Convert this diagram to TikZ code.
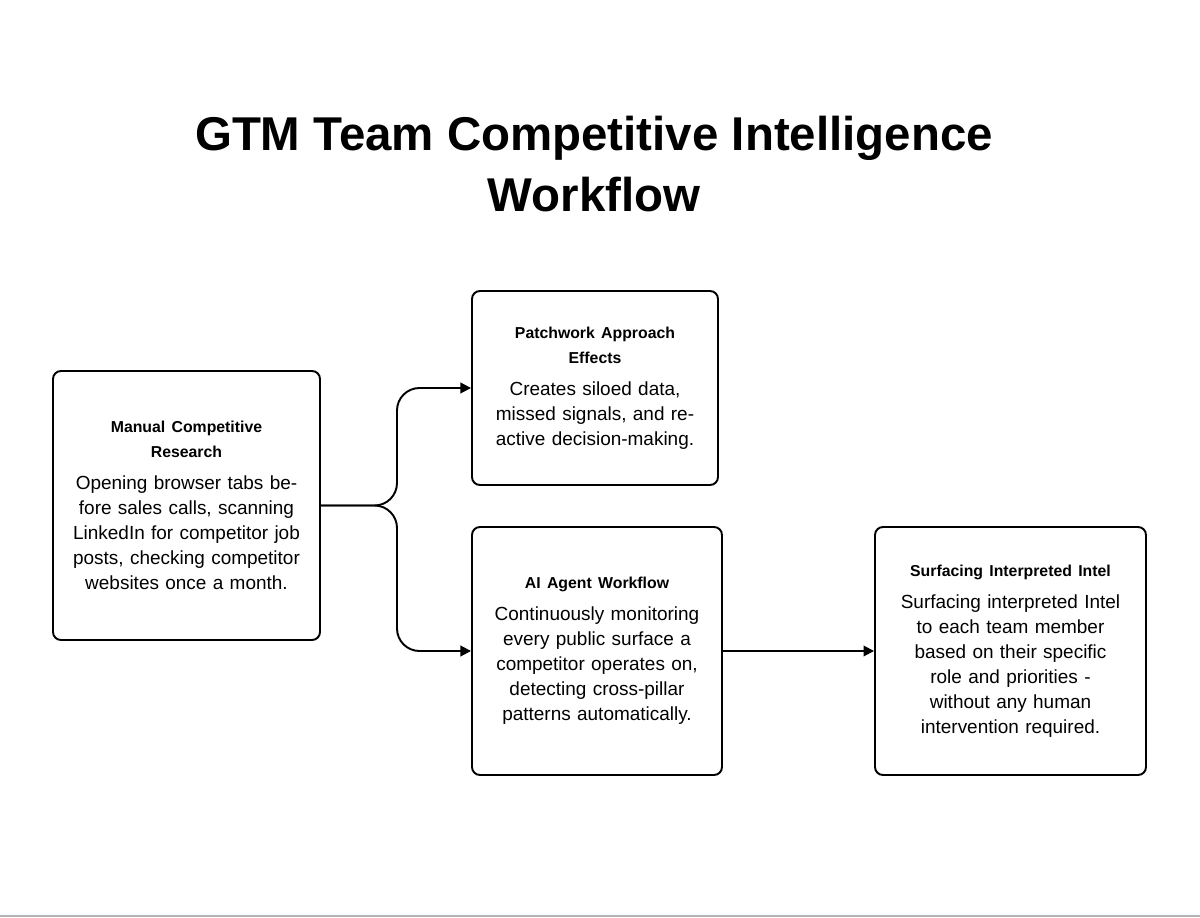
\documentclass[tikz,border=0pt]{standalone}
\usepackage{fontspec}
\setmainfont{Liberation Sans}
\usetikzlibrary{arrows.meta}
\tikzset{
  box/.style={draw, line width=1.1pt, rounded corners=0.16cm, align=center,
    font=\fontsize{10.8}{14.2}\selectfont},
  head/.style={font=\bfseries\fontsize{9}{11.5}\selectfont},
  link/.style={line width=1.1pt, -{Triangle[length=6pt,width=6pt]}}
}
\begin{document}
\begin{tikzpicture}[x=0.02cm, y=-0.02cm]
  \useasboundingbox (0,0) rectangle (1200,918);
  \draw[gray!60, line width=0.8pt] (0,916) -- (1200,916);

  \node (Title) at (594,164) [align=center, font=\bfseries\fontsize{27}{35}\selectfont]
    {GTM Team Competitive Intelligence\\Workflow};

  \node (Manual) [box, minimum width=267*0.02cm, minimum height=269*0.02cm, text width=4.7cm] at (186.5,505.5)
    {{\bfseries\fontsize{9}{11.5}\selectfont Manual Competitive\\Research}\\[4pt]
     Opening browser tabs before sales calls, scanning LinkedIn for competitor job posts, checking competitor websites once a month.};
  \node (Patch) [box, minimum width=246*0.02cm, minimum height=194*0.02cm, text width=4.3cm] at (595,388)
    {{\bfseries\fontsize{9}{11.5}\selectfont Patchwork Approach\\Effects}\\[4pt]
     Creates siloed data, missed signals, and reactive decision-making.};
  \node (Agent) [box, minimum width=250*0.02cm, minimum height=248*0.02cm, text width=4.4cm] at (597,651)
    {{\bfseries\fontsize{9}{11.5}\selectfont AI Agent Workflow}\\[4pt]
     Continuously monitoring every public surface a competitor operates on, detecting cross-pillar patterns automatically.};
  \node (Intel) [box, minimum width=271*0.02cm, minimum height=248*0.02cm, text width=4.4cm] at (1010.5,651)
    {{\bfseries\fontsize{9}{11.5}\selectfont Surfacing Interpreted Intel}\\[4pt]
     Surfacing interpreted Intel to each team member based on their specific role and priorities - without any human intervention required.};

  \coordinate (Split) at (397,505.5);
  \draw[link, rounded corners=0.45cm] (Manual.east) -- (Split) |- (Patch.west);
  \draw[link, rounded corners=0.45cm] (Manual.east) -- (Split) |- (Agent.west);
  \draw[link] (Agent.east) -- (Intel.west);
\end{tikzpicture}
\end{document}
